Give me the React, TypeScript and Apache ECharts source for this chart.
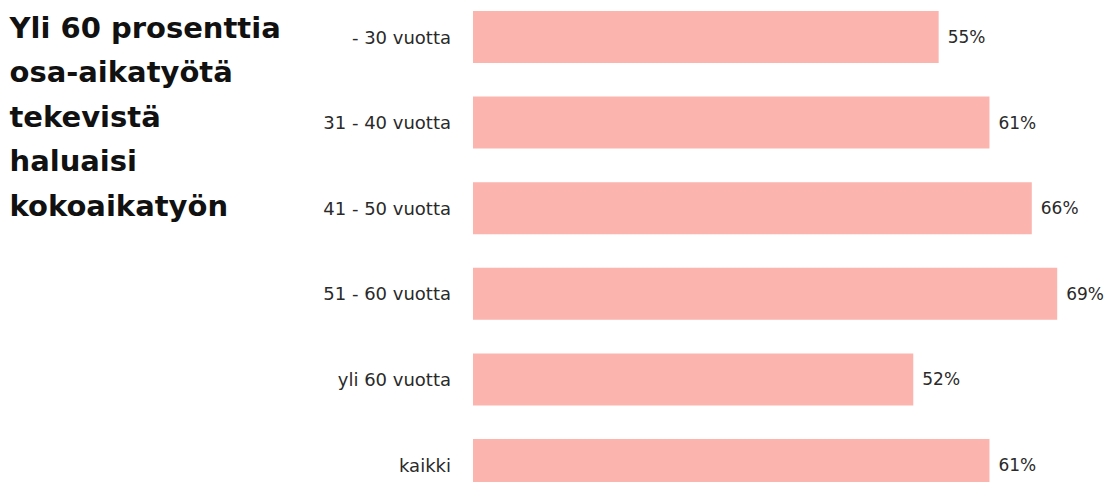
import React, { useEffect, useRef } from "react";
import * as echarts from "echarts";

const categories = ["- 30 vuotta", "31 - 40 vuotta", "41 - 50 vuotta", "51 - 60 vuotta", "yli 60 vuotta", "kaikki"];
const values = [55, 61, 66, 69, 52, 61];
const titleLines = ["Yli 60 prosenttia", "osa-aikatyötä", "tekevistä", "haluaisi", "kokoaikatyön"];

const OFFSET = 6;

export default function App() {
  const ref = useRef<HTMLDivElement>(null);
  useEffect(() => {
    if (!ref.current) return;
    const chart = echarts.init(ref.current, null, { renderer: "svg" });
    chart.setOption({
      animation: false,
      backgroundColor: "#ffffff",
      title: {
        text: titleLines.join("\n"),
        left: 4.5,
        top: 0.3 + OFFSET,
        textStyle: {
          fontFamily: "DejaVu Sans",
          fontSize: 29,
          fontWeight: "bold",
          lineHeight: 44.5,
          color: "#111111",
        },
      },
      grid: { left: 473, top: -5.8 + OFFSET, width: 637, height: 513.6, containLabel: false },
      xAxis: {
        type: "value",
        min: 0,
        max: 75,
        show: false,
      },
      yAxis: {
        type: "category",
        data: categories,
        inverse: true,
        axisLine: { show: false },
        axisTick: { show: false },
        splitLine: { show: false },
        axisLabel: {
          margin: 22,
          fontFamily: "DejaVu Sans",
          fontSize: 18,
          color: "#2a2a2a",
        },
      },
      series: [
        {
          type: "bar",
          data: values,
          barWidth: 52,
          itemStyle: { color: "#fbb5ae" },
          label: {
            show: true,
            position: "right",
            distance: 9,
            formatter: (p: any) => p.value + "%",
            fontFamily: "DejaVu Sans",
            fontSize: 17,
            color: "#2a2a2a",
          },
        },
      ],
    });
    return () => chart.dispose();
  }, []);
  return (
    <div style={{ position: "fixed", left: 0, top: 0, width: 1108, height: 482, overflow: "hidden", background: "#fff" }}>
      <div ref={ref} style={{ position: "absolute", left: 0, top: -OFFSET, width: 1108, height: 520 }} />
    </div>
  );
}
